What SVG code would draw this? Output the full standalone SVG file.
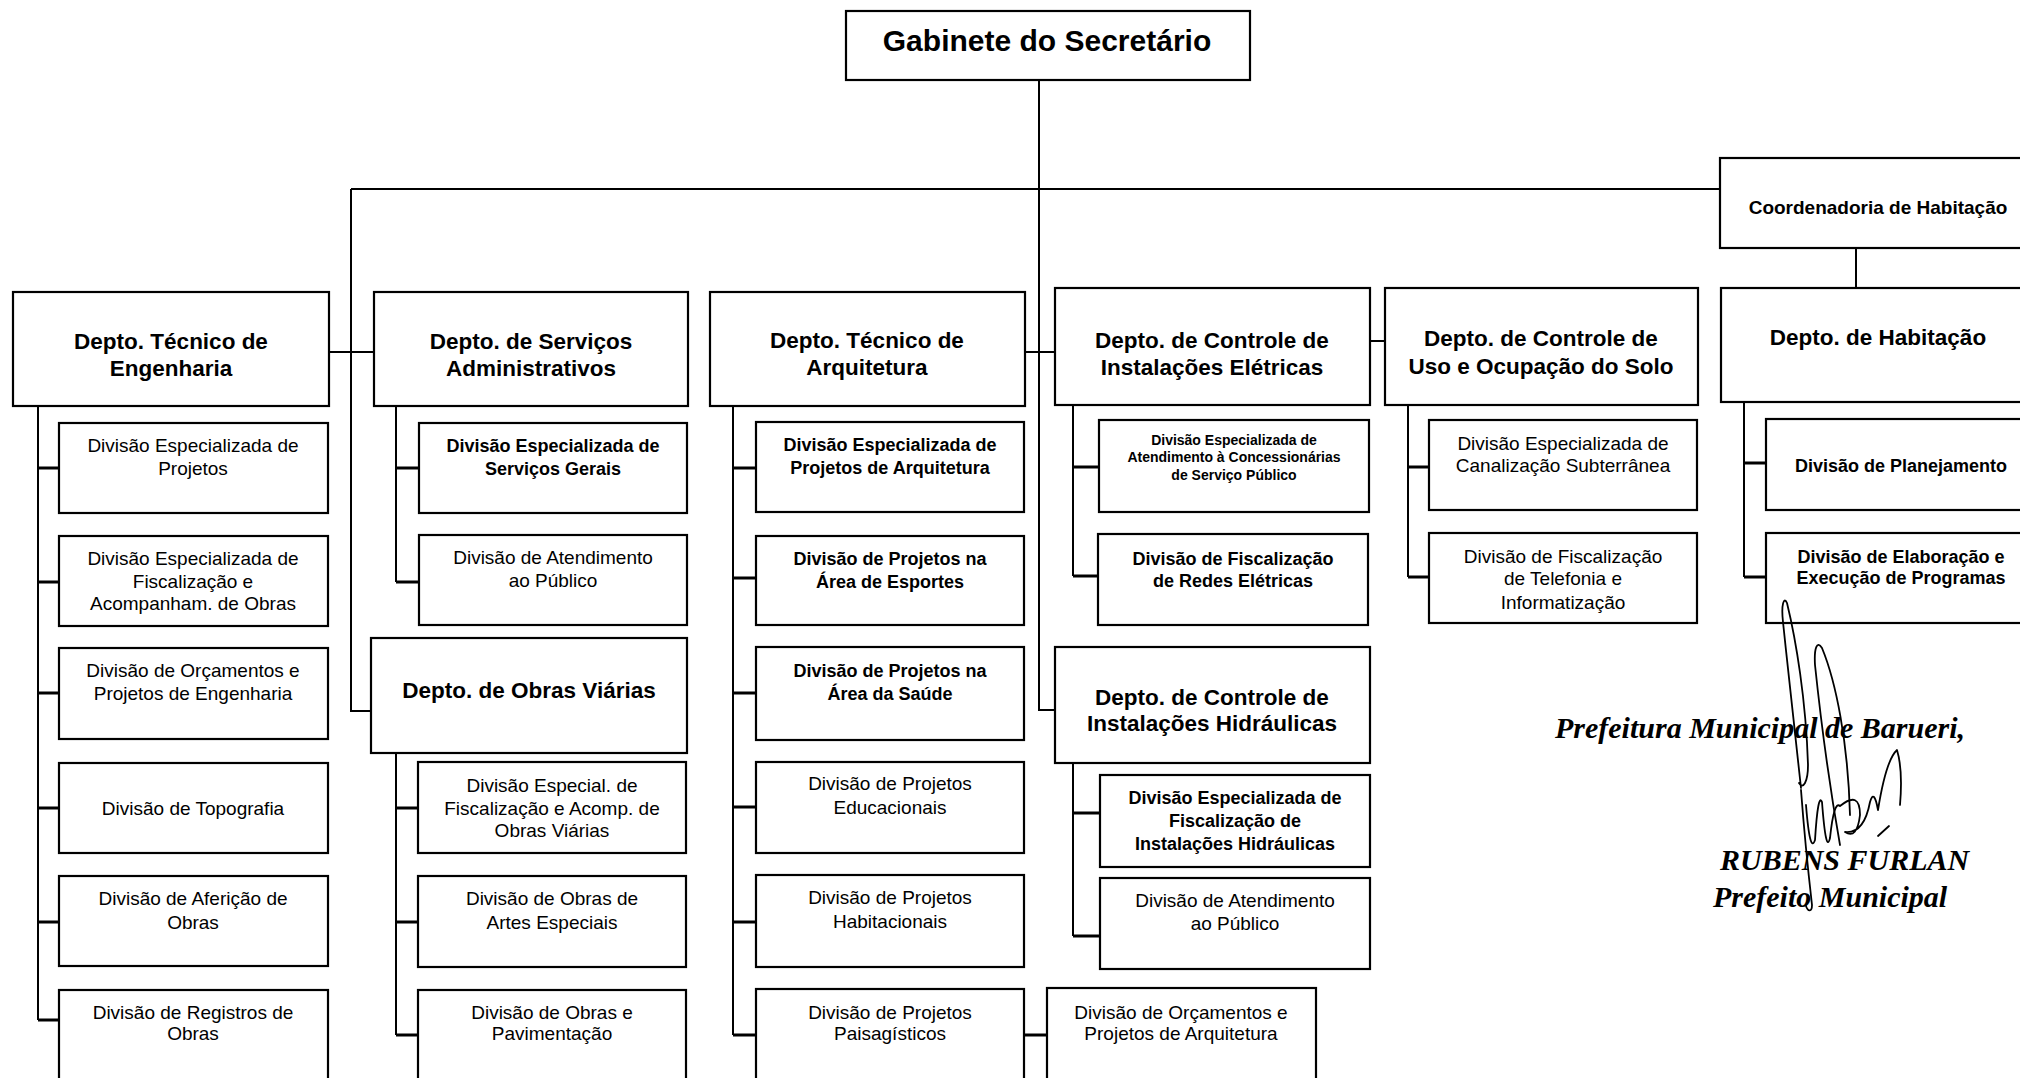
<svg xmlns="http://www.w3.org/2000/svg" width="2020" height="1078" viewBox="0 0 2020 1078">
<style>
.box{fill:#fff;stroke:#000;stroke-width:2.2}
.ln{stroke:#000;stroke-width:2;fill:none}
.stub{stroke:#000;stroke-width:3;fill:none}
.sig{stroke:#000;stroke-width:1.8;fill:none;stroke-linecap:round;stroke-linejoin:round}
text{fill:#000;text-anchor:middle;font-family:"Liberation Sans",Arial,sans-serif}
.top{font-weight:bold;font-size:30px}
.coord{font-weight:bold;font-size:19px}
.dept{font-weight:bold;font-size:22.5px}
.div{font-size:19px}
.divb{font-weight:bold;font-size:18px}
.small{font-weight:bold;font-size:14px}
.sigt{font-family:"Liberation Serif","Times New Roman",serif;font-style:italic;font-weight:bold;font-size:30px;text-anchor:start}
</style>
<rect width="2020" height="1078" fill="#fff"/>

<g id="connectors">
<path class="ln" d="M1039,80 V710 H1055"/>
<path class="ln" d="M351,189 H1720"/>
<path class="ln" d="M351,189 V711 H371"/>
<path class="ln" d="M329,352 H374"/>
<path class="ln" d="M1025,352 H1055"/>
<path class="ln" d="M1370,341 H1385"/>
<path class="ln" d="M1856,248 V288"/>
<path class="ln" d="M38,406 V1020"/>
<path class="stub" d="M38,468 H59 M38,582 H59 M38,693 H59 M38,808 H59 M38,922 H59 M38,1020 H59"/>
<path class="ln" d="M396,406 V582"/>
<path class="stub" d="M396,468 H419 M396,582 H419"/>
<path class="ln" d="M396,753 V1035"/>
<path class="stub" d="M396,808 H419 M396,922 H419 M396,1035 H419"/>
<path class="ln" d="M733,406 V1035"/>
<path class="stub" d="M733,468 H756 M733,578 H756 M733,693 H756 M733,807 H756 M733,922 H756 M733,1035 H756"/>
<path class="stub" d="M1024,1035 H1047"/>
<path class="ln" d="M1073,405 V576"/>
<path class="stub" d="M1073,467 H1099 M1073,576 H1099"/>
<path class="ln" d="M1073,763 V936"/>
<path class="stub" d="M1073,813 H1100 M1073,936 H1100"/>
<path class="ln" d="M1408,405 V577"/>
<path class="stub" d="M1408,467 H1429 M1408,577 H1429"/>
<path class="ln" d="M1744,402 V577"/>
<path class="stub" d="M1744,463 H1766 M1744,577 H1766"/>
</g>

<g id="gabinete"><rect class="box" x="846" y="11" width="404" height="69"/><text class="top" x="1047" y="51">Gabinete do Secretário</text></g>
<g id="coordenadoria"><rect class="box" x="1720" y="158" width="316" height="90"/><text class="coord" x="1878" y="214">Coordenadoria de Habitação</text></g>

<g id="depto-engenharia"><rect class="box" x="13" y="292" width="316" height="114"/><text class="dept" x="171" y="349">Depto. Técnico de</text><text class="dept" x="171" y="376">Engenharia</text></g>
<g id="depto-servicos"><rect class="box" x="374" y="292" width="314" height="114"/><text class="dept" x="531" y="349">Depto. de Serviços</text><text class="dept" x="531" y="376">Administrativos</text></g>
<g id="depto-arquitetura"><rect class="box" x="710" y="292" width="315" height="114"/><text class="dept" x="867" y="348">Depto. Técnico de</text><text class="dept" x="867" y="375">Arquitetura</text></g>
<g id="depto-eletricas"><rect class="box" x="1055" y="288" width="315" height="117"/><text class="dept" x="1212" y="348">Depto. de Controle de</text><text class="dept" x="1212" y="375">Instalações Elétricas</text></g>
<g id="depto-uso"><rect class="box" x="1385" y="288" width="313" height="117"/><text class="dept" x="1541" y="346">Depto. de Controle de</text><text class="dept" x="1541" y="374">Uso e Ocupação do Solo</text></g>
<g id="depto-habitacao"><rect class="box" x="1721" y="288" width="315" height="114"/><text class="dept" x="1878" y="345">Depto. de Habitação</text></g>
<g id="depto-obras-viarias"><rect class="box" x="371" y="638" width="316" height="115"/><text class="dept" x="529" y="698">Depto. de Obras Viárias</text></g>
<g id="depto-hidraulicas"><rect class="box" x="1055" y="647" width="315" height="116"/><text class="dept" x="1212" y="705">Depto. de Controle de</text><text class="dept" x="1212" y="731">Instalações Hidráulicas</text></g>

<g id="eng-1"><rect class="box" x="59" y="423" width="269" height="90"/><text class="div" x="193" y="452">Divisão Especializada de</text><text class="div" x="193" y="475">Projetos</text></g>
<g id="eng-2"><rect class="box" x="59" y="536" width="269" height="90"/><text class="div" x="193" y="565">Divisão Especializada de</text><text class="div" x="193" y="588">Fiscalização e</text><text class="div" x="193" y="610">Acompanham. de Obras</text></g>
<g id="eng-3"><rect class="box" x="59" y="648" width="269" height="91"/><text class="div" x="193" y="677">Divisão de Orçamentos e</text><text class="div" x="193" y="700">Projetos de Engenharia</text></g>
<g id="eng-4"><rect class="box" x="59" y="763" width="269" height="90"/><text class="div" x="193" y="815">Divisão de Topografia</text></g>
<g id="eng-5"><rect class="box" x="59" y="876" width="269" height="90"/><text class="div" x="193" y="905">Divisão de Aferição de</text><text class="div" x="193" y="929">Obras</text></g>
<g id="eng-6"><rect class="box" x="59" y="990" width="269" height="92"/><text class="div" x="193" y="1019">Divisão de Registros de</text><text class="div" x="193" y="1040">Obras</text></g>

<g id="serv-1"><rect class="box" x="419" y="423" width="268" height="90"/><text class="divb" x="553" y="452">Divisão Especializada de</text><text class="divb" x="553" y="475">Serviços Gerais</text></g>
<g id="serv-2"><rect class="box" x="419" y="535" width="268" height="90"/><text class="div" x="553" y="564">Divisão de Atendimento</text><text class="div" x="553" y="587">ao Público</text></g>

<g id="obras-1"><rect class="box" x="418" y="762" width="268" height="91"/><text class="div" x="552" y="792">Divisão Especial. de</text><text class="div" x="552" y="815">Fiscalização e Acomp. de</text><text class="div" x="552" y="837">Obras Viárias</text></g>
<g id="obras-2"><rect class="box" x="418" y="876" width="268" height="91"/><text class="div" x="552" y="905">Divisão de Obras de</text><text class="div" x="552" y="929">Artes Especiais</text></g>
<g id="obras-3"><rect class="box" x="418" y="990" width="268" height="92"/><text class="div" x="552" y="1019">Divisão de Obras e</text><text class="div" x="552" y="1040">Pavimentação</text></g>

<g id="arq-1"><rect class="box" x="756" y="422" width="268" height="90"/><text class="divb" x="890" y="451">Divisão Especializada de</text><text class="divb" x="890" y="474">Projetos de Arquitetura</text></g>
<g id="arq-2"><rect class="box" x="756" y="536" width="268" height="89"/><text class="divb" x="890" y="565">Divisão de Projetos na</text><text class="divb" x="890" y="588">Área de Esportes</text></g>
<g id="arq-3"><rect class="box" x="756" y="647" width="268" height="93"/><text class="divb" x="890" y="677">Divisão de Projetos na</text><text class="divb" x="890" y="700">Área da Saúde</text></g>
<g id="arq-4"><rect class="box" x="756" y="762" width="268" height="91"/><text class="div" x="890" y="790">Divisão de Projetos</text><text class="div" x="890" y="814">Educacionais</text></g>
<g id="arq-5"><rect class="box" x="756" y="875" width="268" height="92"/><text class="div" x="890" y="904">Divisão de Projetos</text><text class="div" x="890" y="928">Habitacionais</text></g>
<g id="arq-6"><rect class="box" x="756" y="989" width="268" height="93"/><text class="div" x="890" y="1019">Divisão de Projetos</text><text class="div" x="890" y="1040">Paisagísticos</text></g>
<g id="arq-orcamentos"><rect class="box" x="1047" y="988" width="269" height="94"/><text class="div" x="1181" y="1019">Divisão de Orçamentos e</text><text class="div" x="1181" y="1040">Projetos de Arquitetura</text></g>

<g id="elet-1"><rect class="box" x="1099" y="420" width="270" height="92"/><text class="small" x="1234" y="445">Divisão Especializada de</text><text class="small" x="1234" y="462">Atendimento à Concessionárias</text><text class="small" x="1234" y="480">de Serviço Público</text></g>
<g id="elet-2"><rect class="box" x="1098" y="534" width="270" height="91"/><text class="divb" x="1233" y="565">Divisão de Fiscalização</text><text class="divb" x="1233" y="587">de Redes Elétricas</text></g>

<g id="hidr-1"><rect class="box" x="1100" y="775" width="270" height="92"/><text class="divb" x="1235" y="804">Divisão Especializada de</text><text class="divb" x="1235" y="827">Fiscalização de</text><text class="divb" x="1235" y="850">Instalações Hidráulicas</text></g>
<g id="hidr-2"><rect class="box" x="1100" y="878" width="270" height="91"/><text class="div" x="1235" y="907">Divisão de Atendimento</text><text class="div" x="1235" y="930">ao Público</text></g>

<g id="uso-1"><rect class="box" x="1429" y="420" width="268" height="90"/><text class="div" x="1563" y="450">Divisão Especializada de</text><text class="div" x="1563" y="472">Canalização Subterrânea</text></g>
<g id="uso-2"><rect class="box" x="1429" y="533" width="268" height="90"/><text class="div" x="1563" y="563">Divisão de Fiscalização</text><text class="div" x="1563" y="585">de Telefonia e</text><text class="div" x="1563" y="609">Informatização</text></g>

<g id="hab-1"><rect class="box" x="1766" y="419" width="270" height="91"/><text class="divb" x="1901" y="472">Divisão de Planejamento</text></g>
<g id="hab-2"><rect class="box" x="1766" y="533" width="270" height="90"/><text class="divb" x="1901" y="563">Divisão de Elaboração e</text><text class="divb" x="1901" y="584">Execução de Programas</text></g>

<g id="assinatura">
<text class="sigt" x="1555" y="738">Prefeitura Municipal de Barueri,</text>
<text class="sigt" x="1720" y="870">RUBENS FURLAN</text>
<text class="sigt" x="1713" y="907">Prefeito Municipal</text>
<path class="sig" d="M1801,788 C1796,740 1789,680 1783,622 C1781,604 1784,596 1787,603 C1796,640 1806,700 1808,765 C1808,782 1803,790 1799,783"/>
<path class="sig" d="M1840,845 C1832,800 1821,722 1815,665 C1814,648 1817,640 1822,648 C1836,682 1848,742 1850,815"/>
<path class="sig" d="M1801,790 C1804,830 1808,870 1812,905 C1812,912 1808,912 1806,906"/>
<path class="sig" d="M1806,805 Q1810,855 1815,840 Q1818,792 1822,802 Q1826,855 1830,838 Q1834,800 1840,806 Q1860,790 1860,815 Q1857,840 1845,832 Q1864,834 1870,802 Q1874,788 1878,810 Q1886,760 1897,750 Q1903,770 1900,805"/>
<path class="sig" d="M1878,836 L1889,826"/>
</g>
</svg>
